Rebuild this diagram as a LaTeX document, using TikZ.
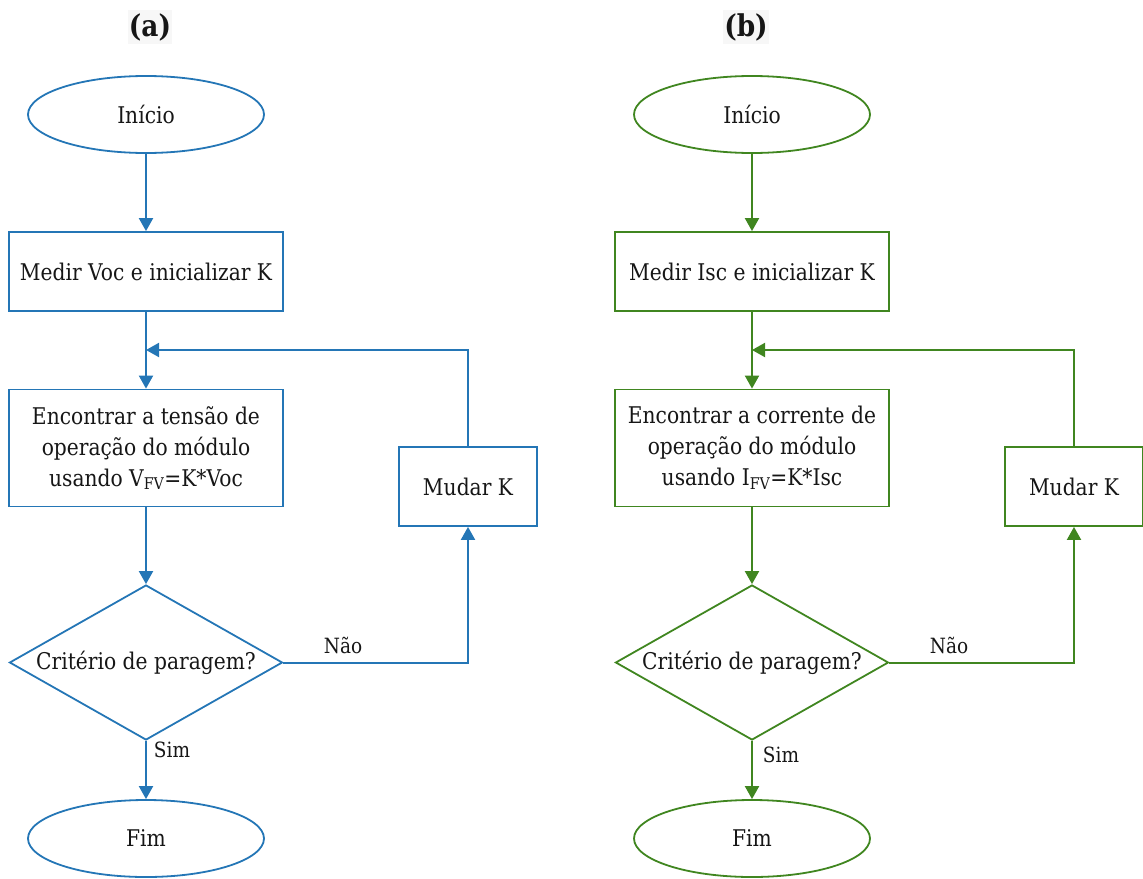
\documentclass[tikz,border=0pt]{standalone}
\usepackage{fontspec}
\setmainfont{DejaVu Serif}[FakeStretch=0.88]
\usetikzlibrary{shapes.geometric,arrows.meta}
\definecolor{flowblue}{RGB}{36,118,182}
\definecolor{flowgreen}{RGB}{64,134,32}
\definecolor{ink}{RGB}{22,22,22}

\tikzset{
  base/.style={draw, line width=1.8pt, inner sep=0pt, text=ink,
    font=\fontsize{23}{31}\selectfont, align=center},
  term/.style={base, ellipse, minimum width=236pt, minimum height=77pt},
  proc/.style={base, rectangle, minimum width=274pt, minimum height=79pt},
  dec/.style={base, diamond, aspect=1.76, minimum width=273pt, minimum height=155pt},
  flow/.style={line width=2pt, -{Triangle[width=14pt,length=13pt]}},
  tag/.style={text=ink, font=\fontsize{21}{23}\selectfont, inner sep=0pt},
  title/.style={font=\bfseries\fontsize{30}{32}\selectfont, text=ink,
    fill=black!3, inner xsep=1pt, inner ysep=3pt},
}

\begin{document}
\begin{tikzpicture}[x=1pt, y=-1pt]
\useasboundingbox (0,0) rectangle (1143,878);

% ---------- (a) open-circuit voltage method ----------
\node[title] (ta) at (150,27) {(a)};
\begin{scope}[color=flowblue]
  \node[term] (sa) at (146,114.5) {Início};
  \node[proc] (ma) at (146,271.5) {Medir Voc e inicializar K};
  \node[proc, minimum height=117pt] (ea) at (146,448)
    {Encontrar a tensão de\\operação do módulo\\usando V\textsubscript{FV}=K*Voc};
  \node[dec] (da) at (146,662.5) {Critério de paragem?};
  \node[term] (fa) at (146,838.5) {Fim};
  \node[proc, minimum width=138pt] (ka) at (468,486.5) {Mudar K};
  \coordinate (ja) at (146,350);

  \draw[flow] (sa) -- (ma);
  \draw[flow] (ma) -- (ea);
  \draw[flow] (ka.north) |- (ja);
  \draw[flow] (ea) -- (da);
  \draw[flow] (da) -- (fa);
  \draw[flow] (da.east) -| (ka.south);
\end{scope}
\node[tag] (na) at (343,645) {Não};
\node[tag] (ya) at (172,750) {Sim};

% ---------- (b) short-circuit current method ----------
\node[title] (tb) at (746,27) {(b)};
\begin{scope}[color=flowgreen]
  \node[term] (sb) at (752,114.5) {Início};
  \node[proc] (mb) at (752,271.5) {Medir Isc e inicializar K};
  \node[proc, minimum height=117pt] (eb) at (752,448)
    {Encontrar a corrente de\\operação do módulo\\usando I\textsubscript{FV}=K*Isc};
  \node[dec] (db) at (752,662.5) {Critério de paragem?};
  \node[term] (fb) at (752,838.5) {Fim};
  \node[proc, minimum width=138pt] (kb) at (1074,486.5) {Mudar K};
  \coordinate (jb) at (752,350);

  \draw[flow] (sb) -- (mb);
  \draw[flow] (mb) -- (eb);
  \draw[flow] (kb.north) |- (jb);
  \draw[flow] (eb) -- (db);
  \draw[flow] (db) -- (fb);
  \draw[flow] (db.east) -| (kb.south);
\end{scope}
\node[tag] (nb) at (949,645) {Não};
\node[tag] (yb) at (781,755) {Sim};
\end{tikzpicture}
\end{document}
